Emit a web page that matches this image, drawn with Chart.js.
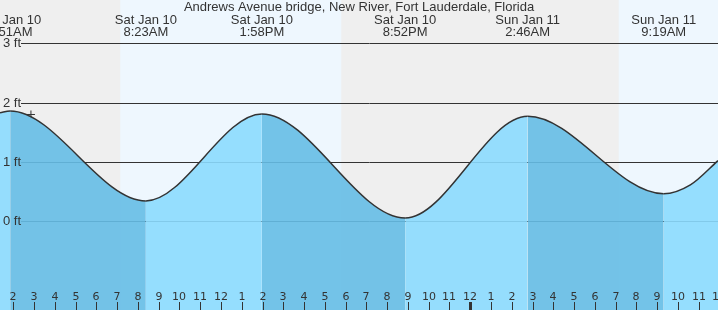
<!DOCTYPE html>
<html>
<head>
<meta charset="utf-8">
<script src="https://cdn.jsdelivr.net/npm/chart.js@4"></script>
<style>
  body { margin: 0; background: #efefef; }
  #wrap { width: 718px; height: 310px; position: relative; }
</style>
</head>
<body>
<div id="wrap"><canvas id="tide-chart"></canvas></div>
<script>
// hours since midnight Sat Jan 10, tide height in ft
const times   = [1.36, 1.85, 8.383, 13.967, 20.867, 26.767, 33.317, 34.6, 35.93];
const heights = [1.83, 1.86, 0.34,  1.81,   0.05,   1.77,   0.46,   0.61, 1.02];

// high / low labels along the top
const eventTimes = [1.85, 8.383, 13.967, 20.867, 26.767, 33.317];
const eventDays  = ['Sat Jan 10', 'Sat Jan 10', 'Sat Jan 10', 'Sat Jan 10', 'Sun Jan 11', 'Sun Jan 11'];
const eventClock = ['1:51AM', '8:23AM', '1:58PM', '8:52PM', '2:46AM', '9:19AM'];

// daylight
const sunrise = [7.15, 31.15];
const sunset  = [17.79, 41.79];

// current time marker
const nowTime   = [2.85];
const nowHeight = [1.80];

const yTicks = [0, 1, 2, 3];
const hourTicks = [];
for (let h = 2; h <= 36; h++) hourTicks.push(h);

const title = 'Andrews Avenue bridge, New River, Fort Lauderdale, Florida';

const lightFill = 'rgba(139,218,254,0.9)';
const darkFill  = 'rgba(101,189,229,0.9)';
const textColor = '#333';

const tidePoints = times.map((t, i) => ({ x: t, y: heights[i] }));
const nowPoints = nowTime.map((t, i) => ({ x: t, y: nowHeight[i] }));

const backdrop = {
  id: 'backdrop',
  beforeDatasetsDraw(chart) {
    const ctx = chart.ctx;
    const xs = chart.scales.x, ys = chart.scales.y;
    const w = chart.width, h = chart.height;
    ctx.save();
    ctx.fillStyle = '#efefef';
    ctx.fillRect(0, 0, w, h);
    ctx.fillStyle = '#eef7fe';
    sunrise.forEach((r, i) => {
      const x0 = xs.getPixelForValue(r);
      const x1 = xs.getPixelForValue(sunset[i]);
      ctx.fillRect(x0, 0, x1 - x0, h);
    });
    // grid lines
    ctx.strokeStyle = textColor;
    ctx.lineWidth = 1;
    yTicks.forEach(v => {
      const y = Math.round(ys.getPixelForValue(v)) + 0.5;
      ctx.beginPath();
      ctx.moveTo(21, y);
      ctx.lineTo(w, y);
      ctx.stroke();
    });
    ctx.restore();
  },
  afterDatasetsDraw(chart) {
    const ctx = chart.ctx;
    const xs = chart.scales.x, ys = chart.scales.y;
    const w = chart.width, h = chart.height;
    ctx.save();
    ctx.fillStyle = textColor;
    ctx.font = '13px "Liberation Sans", Arial, sans-serif';
    ctx.textAlign = 'center';
    ctx.textBaseline = 'alphabetic';
    ctx.fillText(title, w / 2, 11);
    eventTimes.forEach((t, i) => {
      const x = xs.getPixelForValue(t);
      ctx.fillText(eventDays[i], x, 24);
      ctx.fillText(eventClock[i], x, 36);
    });
    // y labels
    ctx.textAlign = 'left';
    ctx.textBaseline = 'middle';
    yTicks.forEach(v => {
      ctx.fillText(v + ' ft', 3, Math.round(ys.getPixelForValue(v)));
    });
    // hour ticks
    ctx.font = '11px "DejaVu Sans", sans-serif';
    ctx.textAlign = 'center';
    ctx.textBaseline = 'alphabetic';
    hourTicks.forEach(hr => {
      const x = Math.round(xs.getPixelForValue(hr));
      const lbl = (hr % 12) || 12;
      ctx.fillText(String(lbl), x, 300);
      const wid = hr % 24 === 0 ? 3 : 1;
      ctx.fillRect(x - Math.floor(wid / 2), 302, wid, h - 302);
    });
    ctx.restore();
  }
};

new Chart(document.getElementById('tide-chart'), {
  type: 'line',
  data: {
    datasets: [{
      label: 'Tide',
      data: tidePoints,
      borderColor: '#333',
      borderWidth: 1.5,
      pointRadius: 0,
      fill: 'start',
      backgroundColor: lightFill,
      cubicInterpolationMode: 'monotone',
      segment: {
        backgroundColor: c => c.p1.parsed.y < c.p0.parsed.y ? darkFill : lightFill
      }
    }, {
      label: 'Now',
      data: nowPoints,
      showLine: false,
      pointStyle: 'cross',
      pointRadius: 4,
      borderColor: '#333',
      borderWidth: 1,
      fill: false
    }]
  },
  options: {
    responsive: true,
    maintainAspectRatio: false,
    animation: false,
    layout: { padding: 0, autoPadding: false },
    plugins: { legend: { display: false }, tooltip: { enabled: false }, title: { display: false } },
    scales: {
      x: { type: 'linear', min: 1.36, max: 35.93, display: false },
      y: { min: -1.504, max: 3.735, display: false }
    }
  },
  plugins: [backdrop]
});
</script>
</body>
</html>
